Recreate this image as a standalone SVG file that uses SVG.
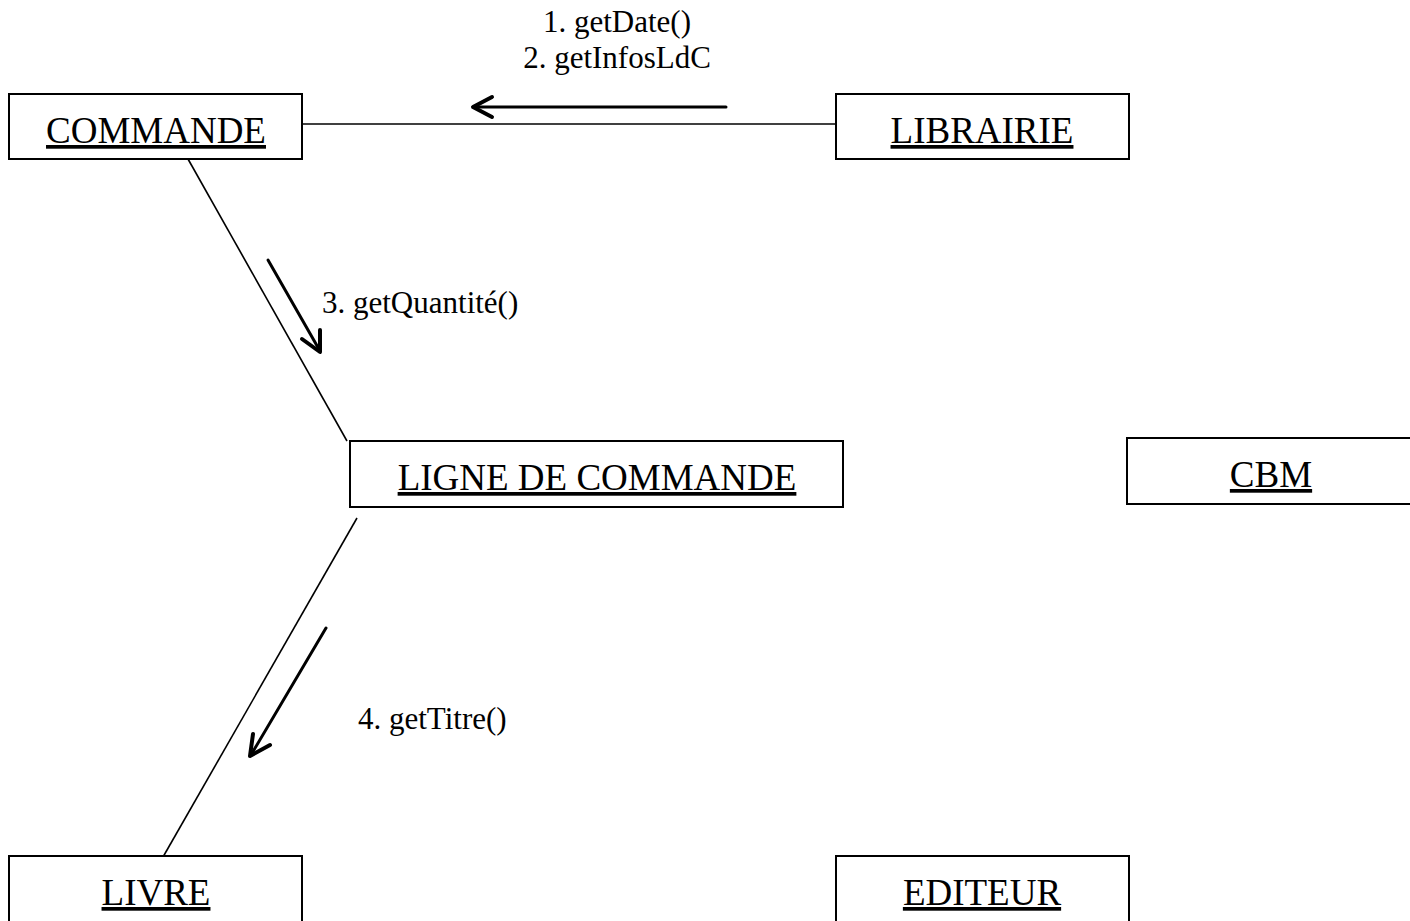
<svg xmlns="http://www.w3.org/2000/svg" width="1410" height="921" viewBox="0 0 1410 921">
  <style>
    .box { fill: #fff; stroke: #000; stroke-width: 2; }
    .name { font-family: "Liberation Serif", "Times New Roman", serif; font-size: 37px; text-anchor: middle; text-decoration: underline; fill: #000; }
    .msg { font-family: "Liberation Serif", "Times New Roman", serif; font-size: 31px; fill: #000; }
    .link { stroke: #000; stroke-width: 1.6; fill: none; }
    .flow { stroke: #000; stroke-width: 3; fill: none; stroke-linecap: round; }
    .head { stroke: #000; stroke-width: 4; fill: none; stroke-linecap: round; stroke-linejoin: round; }
  </style>

  <rect width="1410" height="921" fill="#fff"/>

  <!-- associations between objects -->
  <g id="connectors">
    <line class="link" x1="302" y1="124" x2="836" y2="124"/>
    <line class="link" x1="188" y1="159" x2="347" y2="441"/>
    <line class="link" x1="357" y1="518" x2="163" y2="857"/>
  </g>

  <!-- message arrows with their labels -->
  <g id="messages">
    <line class="flow" x1="726" y1="107" x2="474" y2="107"/>
    <polyline class="head" points="492,97 473,107 492,117"/>
    <text class="msg" x="617" y="32" text-anchor="middle">1. getDate()</text>
    <text class="msg" x="617" y="68" text-anchor="middle">2. getInfosLdC</text>

    <line class="flow" x1="268" y1="260" x2="320" y2="351"/>
    <polyline class="head" points="302,339 320,352 320,330"/>
    <text class="msg" x="322" y="313">3. getQuantité()</text>

    <line class="flow" x1="326" y1="628" x2="251" y2="755"/>
    <polyline class="head" points="253,734 250,756 270,745"/>
    <text class="msg" x="358" y="729">4. getTitre()</text>
  </g>

  <g id="commande">
    <rect class="box" x="9" y="94" width="293" height="65"/>
    <text class="name" x="156" y="143">COMMANDE</text>
  </g>

  <g id="librairie">
    <rect class="box" x="836" y="94" width="293" height="65"/>
    <text class="name" x="982" y="143">LIBRAIRIE</text>
  </g>

  <g id="ligne-de-commande">
    <rect class="box" x="350" y="441" width="493" height="66"/>
    <text class="name" x="597" y="490">LIGNE DE COMMANDE</text>
  </g>

  <g id="cbm">
    <rect class="box" x="1127" y="438" width="300" height="66"/>
    <text class="name" x="1271" y="487">CBM</text>
  </g>

  <g id="livre">
    <rect class="box" x="9" y="856" width="293" height="80"/>
    <text class="name" x="156" y="905">LIVRE</text>
  </g>

  <g id="editeur">
    <rect class="box" x="836" y="856" width="293" height="80"/>
    <text class="name" x="982" y="905">EDITEUR</text>
  </g>
</svg>
